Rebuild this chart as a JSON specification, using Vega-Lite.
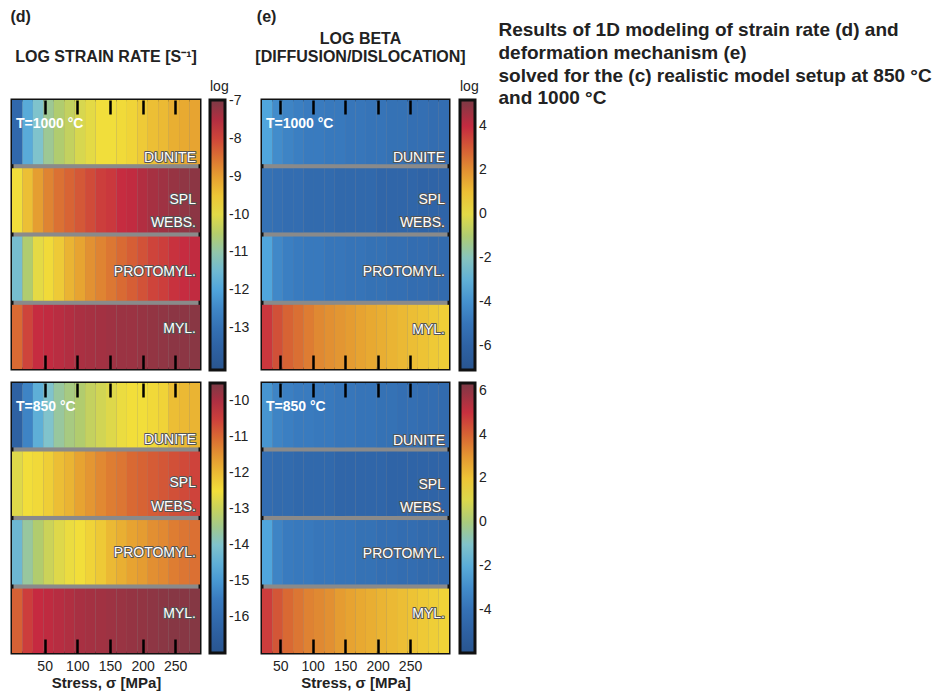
{
"$schema": "https://vega.github.io/schema/vega-lite/v6.json",
"background": "white",
"padding": {"left": 10, "top": 8, "right": 0, "bottom": 0},
"config": {
  "font": "Liberation Sans",
  "view": {"stroke": null},
  "axis": {"grid": false, "zindex": 1},
  "legend": {"padding": 0},
  "title": {"color": "#222"}
},
"datasets": {
"labels": [
  {"layer": "Dunite", "label": "DUNITE"},
  {"layer": "Spl webs.", "label": "SPL\nWEBS."},
  {"layer": "Protomyl.", "label": "PROTOMYL."},
  {"layer": "Myl.", "label": "MYL."}
],
"d1000": [
{"layer":"Dunite","lo":0,"hi":16,"v":-13.25},{"layer":"Dunite","lo":16,"hi":32,"v":-11.83},{"layer":"Dunite","lo":32,"hi":48,"v":-11.26},{"layer":"Dunite","lo":48,"hi":64,"v":-10.83},{"layer":"Dunite","lo":64,"hi":80,"v":-10.55},{"layer":"Dunite","lo":80,"hi":96,"v":-10.34},{"layer":"Dunite","lo":96,"hi":112,"v":-10.12},{"layer":"Dunite","lo":112,"hi":128,"v":-9.98},{"layer":"Dunite","lo":128,"hi":144,"v":-9.84},{"layer":"Dunite","lo":144,"hi":160,"v":-9.84},{"layer":"Dunite","lo":160,"hi":176,"v":-9.77},{"layer":"Dunite","lo":176,"hi":192,"v":-9.70},{"layer":"Dunite","lo":192,"hi":208,"v":-9.56},{"layer":"Dunite","lo":208,"hi":224,"v":-9.41},{"layer":"Dunite","lo":224,"hi":240,"v":-9.34},{"layer":"Dunite","lo":240,"hi":256,"v":-9.20},{"layer":"Dunite","lo":256,"hi":272,"v":-9.13},{"layer":"Dunite","lo":272,"hi":288,"v":-9.06},
{"layer":"Spl webs.","lo":0,"hi":16,"v":-9.84},{"layer":"Spl webs.","lo":16,"hi":32,"v":-9.41},{"layer":"Spl webs.","lo":32,"hi":48,"v":-8.99},{"layer":"Spl webs.","lo":48,"hi":64,"v":-8.70},{"layer":"Spl webs.","lo":64,"hi":80,"v":-8.49},{"layer":"Spl webs.","lo":80,"hi":96,"v":-8.35},{"layer":"Spl webs.","lo":96,"hi":112,"v":-8.21},{"layer":"Spl webs.","lo":112,"hi":128,"v":-8.07},{"layer":"Spl webs.","lo":128,"hi":144,"v":-7.92},{"layer":"Spl webs.","lo":144,"hi":160,"v":-7.85},{"layer":"Spl webs.","lo":160,"hi":176,"v":-7.71},{"layer":"Spl webs.","lo":176,"hi":192,"v":-7.64},{"layer":"Spl webs.","lo":192,"hi":208,"v":-7.50},{"layer":"Spl webs.","lo":208,"hi":224,"v":-7.39},{"layer":"Spl webs.","lo":224,"hi":240,"v":-7.32},{"layer":"Spl webs.","lo":240,"hi":256,"v":-7.25},{"layer":"Spl webs.","lo":256,"hi":272,"v":-7.18},{"layer":"Spl webs.","lo":272,"hi":288,"v":-7.14},
{"layer":"Protomyl.","lo":0,"hi":16,"v":-11.40},{"layer":"Protomyl.","lo":16,"hi":32,"v":-10.55},{"layer":"Protomyl.","lo":32,"hi":48,"v":-9.98},{"layer":"Protomyl.","lo":48,"hi":64,"v":-9.77},{"layer":"Protomyl.","lo":64,"hi":80,"v":-9.56},{"layer":"Protomyl.","lo":80,"hi":96,"v":-9.27},{"layer":"Protomyl.","lo":96,"hi":112,"v":-9.06},{"layer":"Protomyl.","lo":112,"hi":128,"v":-8.85},{"layer":"Protomyl.","lo":128,"hi":144,"v":-8.70},{"layer":"Protomyl.","lo":144,"hi":160,"v":-8.56},{"layer":"Protomyl.","lo":160,"hi":176,"v":-8.42},{"layer":"Protomyl.","lo":176,"hi":192,"v":-8.28},{"layer":"Protomyl.","lo":192,"hi":208,"v":-8.14},{"layer":"Protomyl.","lo":208,"hi":224,"v":-7.99},{"layer":"Protomyl.","lo":224,"hi":240,"v":-7.92},{"layer":"Protomyl.","lo":240,"hi":256,"v":-7.78},{"layer":"Protomyl.","lo":256,"hi":272,"v":-7.71},{"layer":"Protomyl.","lo":272,"hi":288,"v":-7.64},
{"layer":"Myl.","lo":0,"hi":16,"v":-8.42},{"layer":"Myl.","lo":16,"hi":32,"v":-7.99},{"layer":"Myl.","lo":32,"hi":48,"v":-7.71},{"layer":"Myl.","lo":48,"hi":64,"v":-7.64},{"layer":"Myl.","lo":64,"hi":80,"v":-7.57},{"layer":"Myl.","lo":80,"hi":96,"v":-7.50},{"layer":"Myl.","lo":96,"hi":112,"v":-7.43},{"layer":"Myl.","lo":112,"hi":128,"v":-7.39},{"layer":"Myl.","lo":128,"hi":144,"v":-7.36},{"layer":"Myl.","lo":144,"hi":160,"v":-7.32},{"layer":"Myl.","lo":160,"hi":176,"v":-7.28},{"layer":"Myl.","lo":176,"hi":192,"v":-7.28},{"layer":"Myl.","lo":192,"hi":208,"v":-7.25},{"layer":"Myl.","lo":208,"hi":224,"v":-7.21},{"layer":"Myl.","lo":224,"hi":240,"v":-7.18},{"layer":"Myl.","lo":240,"hi":256,"v":-7.14},{"layer":"Myl.","lo":256,"hi":272,"v":-7.14},{"layer":"Myl.","lo":272,"hi":288,"v":-7.11}
],
"d850": [
{"layer":"Dunite","lo":0,"hi":16,"v":-16.40},{"layer":"Dunite","lo":16,"hi":32,"v":-15.35},{"layer":"Dunite","lo":32,"hi":48,"v":-14.53},{"layer":"Dunite","lo":48,"hi":64,"v":-14.00},{"layer":"Dunite","lo":64,"hi":80,"v":-13.63},{"layer":"Dunite","lo":80,"hi":96,"v":-13.40},{"layer":"Dunite","lo":96,"hi":112,"v":-13.25},{"layer":"Dunite","lo":112,"hi":128,"v":-13.03},{"layer":"Dunite","lo":128,"hi":144,"v":-12.88},{"layer":"Dunite","lo":144,"hi":160,"v":-12.73},{"layer":"Dunite","lo":160,"hi":176,"v":-12.58},{"layer":"Dunite","lo":176,"hi":192,"v":-12.50},{"layer":"Dunite","lo":192,"hi":208,"v":-12.50},{"layer":"Dunite","lo":208,"hi":224,"v":-12.43},{"layer":"Dunite","lo":224,"hi":240,"v":-12.35},{"layer":"Dunite","lo":240,"hi":256,"v":-12.05},{"layer":"Dunite","lo":256,"hi":272,"v":-11.98},{"layer":"Dunite","lo":272,"hi":288,"v":-11.90},
{"layer":"Spl webs.","lo":0,"hi":16,"v":-12.73},{"layer":"Spl webs.","lo":16,"hi":32,"v":-12.50},{"layer":"Spl webs.","lo":32,"hi":48,"v":-12.43},{"layer":"Spl webs.","lo":48,"hi":64,"v":-12.28},{"layer":"Spl webs.","lo":64,"hi":80,"v":-12.05},{"layer":"Spl webs.","lo":80,"hi":96,"v":-11.90},{"layer":"Spl webs.","lo":96,"hi":112,"v":-11.68},{"layer":"Spl webs.","lo":112,"hi":128,"v":-11.53},{"layer":"Spl webs.","lo":128,"hi":144,"v":-11.38},{"layer":"Spl webs.","lo":144,"hi":160,"v":-11.23},{"layer":"Spl webs.","lo":160,"hi":176,"v":-11.15},{"layer":"Spl webs.","lo":176,"hi":192,"v":-11.00},{"layer":"Spl webs.","lo":192,"hi":208,"v":-10.93},{"layer":"Spl webs.","lo":208,"hi":224,"v":-10.85},{"layer":"Spl webs.","lo":224,"hi":240,"v":-10.78},{"layer":"Spl webs.","lo":240,"hi":256,"v":-10.70},{"layer":"Spl webs.","lo":256,"hi":272,"v":-10.63},{"layer":"Spl webs.","lo":272,"hi":288,"v":-10.55},
{"layer":"Protomyl.","lo":0,"hi":16,"v":-14.30},{"layer":"Protomyl.","lo":16,"hi":32,"v":-13.63},{"layer":"Protomyl.","lo":32,"hi":48,"v":-13.25},{"layer":"Protomyl.","lo":48,"hi":64,"v":-12.95},{"layer":"Protomyl.","lo":64,"hi":80,"v":-12.73},{"layer":"Protomyl.","lo":80,"hi":96,"v":-12.58},{"layer":"Protomyl.","lo":96,"hi":112,"v":-12.50},{"layer":"Protomyl.","lo":112,"hi":128,"v":-12.35},{"layer":"Protomyl.","lo":128,"hi":144,"v":-12.20},{"layer":"Protomyl.","lo":144,"hi":160,"v":-11.98},{"layer":"Protomyl.","lo":160,"hi":176,"v":-11.83},{"layer":"Protomyl.","lo":176,"hi":192,"v":-11.68},{"layer":"Protomyl.","lo":192,"hi":208,"v":-11.60},{"layer":"Protomyl.","lo":208,"hi":224,"v":-11.45},{"layer":"Protomyl.","lo":224,"hi":240,"v":-11.38},{"layer":"Protomyl.","lo":240,"hi":256,"v":-11.23},{"layer":"Protomyl.","lo":256,"hi":272,"v":-11.15},{"layer":"Protomyl.","lo":272,"hi":288,"v":-11.08},
{"layer":"Myl.","lo":0,"hi":16,"v":-10.90},{"layer":"Myl.","lo":16,"hi":32,"v":-10.48},{"layer":"Myl.","lo":32,"hi":48,"v":-10.25},{"layer":"Myl.","lo":48,"hi":64,"v":-10.18},{"layer":"Myl.","lo":64,"hi":80,"v":-10.10},{"layer":"Myl.","lo":80,"hi":96,"v":-10.03},{"layer":"Myl.","lo":96,"hi":112,"v":-9.95},{"layer":"Myl.","lo":112,"hi":128,"v":-9.91},{"layer":"Myl.","lo":128,"hi":144,"v":-9.88},{"layer":"Myl.","lo":144,"hi":160,"v":-9.84},{"layer":"Myl.","lo":160,"hi":176,"v":-9.80},{"layer":"Myl.","lo":176,"hi":192,"v":-9.76},{"layer":"Myl.","lo":192,"hi":208,"v":-9.73},{"layer":"Myl.","lo":208,"hi":224,"v":-9.69},{"layer":"Myl.","lo":224,"hi":240,"v":-9.65},{"layer":"Myl.","lo":240,"hi":256,"v":-9.62},{"layer":"Myl.","lo":256,"hi":272,"v":-9.62},{"layer":"Myl.","lo":272,"hi":288,"v":-9.60}
],
"e1000": [
{"layer":"Dunite","lo":22,"hi":38,"v":-3.41},{"layer":"Dunite","lo":38,"hi":54,"v":-4.15},{"layer":"Dunite","lo":54,"hi":70,"v":-4.39},{"layer":"Dunite","lo":70,"hi":86,"v":-4.52},{"layer":"Dunite","lo":86,"hi":102,"v":-4.64},{"layer":"Dunite","lo":102,"hi":118,"v":-4.64},{"layer":"Dunite","lo":118,"hi":134,"v":-4.76},{"layer":"Dunite","lo":134,"hi":150,"v":-4.76},{"layer":"Dunite","lo":150,"hi":166,"v":-4.89},{"layer":"Dunite","lo":166,"hi":182,"v":-4.89},{"layer":"Dunite","lo":182,"hi":198,"v":-5.01},{"layer":"Dunite","lo":198,"hi":214,"v":-5.01},{"layer":"Dunite","lo":214,"hi":230,"v":-5.13},{"layer":"Dunite","lo":230,"hi":246,"v":-5.13},{"layer":"Dunite","lo":246,"hi":262,"v":-5.26},{"layer":"Dunite","lo":262,"hi":278,"v":-5.26},{"layer":"Dunite","lo":278,"hi":294,"v":-5.38},{"layer":"Dunite","lo":294,"hi":310,"v":-5.38},
{"layer":"Spl webs.","lo":22,"hi":38,"v":-5.13},{"layer":"Spl webs.","lo":38,"hi":54,"v":-5.26},{"layer":"Spl webs.","lo":54,"hi":70,"v":-5.38},{"layer":"Spl webs.","lo":70,"hi":86,"v":-5.38},{"layer":"Spl webs.","lo":86,"hi":102,"v":-5.50},{"layer":"Spl webs.","lo":102,"hi":118,"v":-5.50},{"layer":"Spl webs.","lo":118,"hi":134,"v":-5.50},{"layer":"Spl webs.","lo":134,"hi":150,"v":-5.62},{"layer":"Spl webs.","lo":150,"hi":166,"v":-5.62},{"layer":"Spl webs.","lo":166,"hi":182,"v":-5.62},{"layer":"Spl webs.","lo":182,"hi":198,"v":-5.62},{"layer":"Spl webs.","lo":198,"hi":214,"v":-5.75},{"layer":"Spl webs.","lo":214,"hi":230,"v":-5.75},{"layer":"Spl webs.","lo":230,"hi":246,"v":-5.75},{"layer":"Spl webs.","lo":246,"hi":262,"v":-5.75},{"layer":"Spl webs.","lo":262,"hi":278,"v":-5.87},{"layer":"Spl webs.","lo":278,"hi":294,"v":-5.87},{"layer":"Spl webs.","lo":294,"hi":310,"v":-5.87},
{"layer":"Protomyl.","lo":22,"hi":38,"v":-3.41},{"layer":"Protomyl.","lo":38,"hi":54,"v":-4.27},{"layer":"Protomyl.","lo":54,"hi":70,"v":-4.52},{"layer":"Protomyl.","lo":70,"hi":86,"v":-4.64},{"layer":"Protomyl.","lo":86,"hi":102,"v":-4.76},{"layer":"Protomyl.","lo":102,"hi":118,"v":-4.76},{"layer":"Protomyl.","lo":118,"hi":134,"v":-4.89},{"layer":"Protomyl.","lo":134,"hi":150,"v":-4.89},{"layer":"Protomyl.","lo":150,"hi":166,"v":-5.01},{"layer":"Protomyl.","lo":166,"hi":182,"v":-5.01},{"layer":"Protomyl.","lo":182,"hi":198,"v":-5.13},{"layer":"Protomyl.","lo":198,"hi":214,"v":-5.13},{"layer":"Protomyl.","lo":214,"hi":230,"v":-5.26},{"layer":"Protomyl.","lo":230,"hi":246,"v":-5.26},{"layer":"Protomyl.","lo":246,"hi":262,"v":-5.38},{"layer":"Protomyl.","lo":262,"hi":278,"v":-5.38},{"layer":"Protomyl.","lo":278,"hi":294,"v":-5.50},{"layer":"Protomyl.","lo":294,"hi":310,"v":-5.50},
{"layer":"Myl.","lo":22,"hi":38,"v":3.72},{"layer":"Myl.","lo":38,"hi":54,"v":3.23},{"layer":"Myl.","lo":54,"hi":70,"v":2.86},{"layer":"Myl.","lo":70,"hi":86,"v":2.62},{"layer":"Myl.","lo":86,"hi":102,"v":2.37},{"layer":"Myl.","lo":102,"hi":118,"v":2.13},{"layer":"Myl.","lo":118,"hi":134,"v":2.00},{"layer":"Myl.","lo":134,"hi":150,"v":1.88},{"layer":"Myl.","lo":150,"hi":166,"v":1.76},{"layer":"Myl.","lo":166,"hi":182,"v":1.63},{"layer":"Myl.","lo":182,"hi":198,"v":1.51},{"layer":"Myl.","lo":198,"hi":214,"v":1.39},{"layer":"Myl.","lo":214,"hi":230,"v":1.26},{"layer":"Myl.","lo":230,"hi":246,"v":1.14},{"layer":"Myl.","lo":246,"hi":262,"v":1.02},{"layer":"Myl.","lo":262,"hi":278,"v":0.90},{"layer":"Myl.","lo":278,"hi":294,"v":0.77},{"layer":"Myl.","lo":294,"hi":310,"v":0.65}
],
"e850": [
{"layer":"Dunite","lo":22,"hi":38,"v":-2.75},{"layer":"Dunite","lo":38,"hi":54,"v":-3.24},{"layer":"Dunite","lo":54,"hi":70,"v":-3.37},{"layer":"Dunite","lo":70,"hi":86,"v":-3.49},{"layer":"Dunite","lo":86,"hi":102,"v":-3.49},{"layer":"Dunite","lo":102,"hi":118,"v":-3.61},{"layer":"Dunite","lo":118,"hi":134,"v":-3.61},{"layer":"Dunite","lo":134,"hi":150,"v":-3.74},{"layer":"Dunite","lo":150,"hi":166,"v":-3.74},{"layer":"Dunite","lo":166,"hi":182,"v":-3.86},{"layer":"Dunite","lo":182,"hi":198,"v":-3.86},{"layer":"Dunite","lo":198,"hi":214,"v":-3.98},{"layer":"Dunite","lo":214,"hi":230,"v":-3.98},{"layer":"Dunite","lo":230,"hi":246,"v":-4.11},{"layer":"Dunite","lo":246,"hi":262,"v":-4.11},{"layer":"Dunite","lo":262,"hi":278,"v":-4.23},{"layer":"Dunite","lo":278,"hi":294,"v":-4.23},{"layer":"Dunite","lo":294,"hi":310,"v":-4.35},
{"layer":"Spl webs.","lo":22,"hi":38,"v":-4.23},{"layer":"Spl webs.","lo":38,"hi":54,"v":-4.35},{"layer":"Spl webs.","lo":54,"hi":70,"v":-4.35},{"layer":"Spl webs.","lo":70,"hi":86,"v":-4.47},{"layer":"Spl webs.","lo":86,"hi":102,"v":-4.47},{"layer":"Spl webs.","lo":102,"hi":118,"v":-4.47},{"layer":"Spl webs.","lo":118,"hi":134,"v":-4.47},{"layer":"Spl webs.","lo":134,"hi":150,"v":-4.60},{"layer":"Spl webs.","lo":150,"hi":166,"v":-4.60},{"layer":"Spl webs.","lo":166,"hi":182,"v":-4.60},{"layer":"Spl webs.","lo":182,"hi":198,"v":-4.60},{"layer":"Spl webs.","lo":198,"hi":214,"v":-4.60},{"layer":"Spl webs.","lo":214,"hi":230,"v":-4.72},{"layer":"Spl webs.","lo":230,"hi":246,"v":-4.72},{"layer":"Spl webs.","lo":246,"hi":262,"v":-4.72},{"layer":"Spl webs.","lo":262,"hi":278,"v":-4.72},{"layer":"Spl webs.","lo":278,"hi":294,"v":-4.72},{"layer":"Spl webs.","lo":294,"hi":310,"v":-4.72},
{"layer":"Protomyl.","lo":22,"hi":38,"v":-2.26},{"layer":"Protomyl.","lo":38,"hi":54,"v":-3.24},{"layer":"Protomyl.","lo":54,"hi":70,"v":-3.49},{"layer":"Protomyl.","lo":70,"hi":86,"v":-3.61},{"layer":"Protomyl.","lo":86,"hi":102,"v":-3.61},{"layer":"Protomyl.","lo":102,"hi":118,"v":-3.74},{"layer":"Protomyl.","lo":118,"hi":134,"v":-3.74},{"layer":"Protomyl.","lo":134,"hi":150,"v":-3.86},{"layer":"Protomyl.","lo":150,"hi":166,"v":-3.86},{"layer":"Protomyl.","lo":166,"hi":182,"v":-3.98},{"layer":"Protomyl.","lo":182,"hi":198,"v":-3.98},{"layer":"Protomyl.","lo":198,"hi":214,"v":-4.11},{"layer":"Protomyl.","lo":214,"hi":230,"v":-4.11},{"layer":"Protomyl.","lo":230,"hi":246,"v":-4.23},{"layer":"Protomyl.","lo":246,"hi":262,"v":-4.23},{"layer":"Protomyl.","lo":262,"hi":278,"v":-4.35},{"layer":"Protomyl.","lo":278,"hi":294,"v":-4.35},{"layer":"Protomyl.","lo":294,"hi":310,"v":-4.47},
{"layer":"Myl.","lo":22,"hi":38,"v":4.75},{"layer":"Myl.","lo":38,"hi":54,"v":4.26},{"layer":"Myl.","lo":54,"hi":70,"v":3.89},{"layer":"Myl.","lo":70,"hi":86,"v":3.64},{"layer":"Myl.","lo":86,"hi":102,"v":3.40},{"layer":"Myl.","lo":102,"hi":118,"v":3.28},{"layer":"Myl.","lo":118,"hi":134,"v":3.15},{"layer":"Myl.","lo":134,"hi":150,"v":2.91},{"layer":"Myl.","lo":150,"hi":166,"v":2.78},{"layer":"Myl.","lo":166,"hi":182,"v":2.66},{"layer":"Myl.","lo":182,"hi":198,"v":2.54},{"layer":"Myl.","lo":198,"hi":214,"v":2.41},{"layer":"Myl.","lo":214,"hi":230,"v":2.29},{"layer":"Myl.","lo":230,"hi":246,"v":2.17},{"layer":"Myl.","lo":246,"hi":262,"v":2.05},{"layer":"Myl.","lo":262,"hi":278,"v":1.92},{"layer":"Myl.","lo":278,"hi":294,"v":1.80},{"layer":"Myl.","lo":294,"hi":310,"v":1.68}
]
},
"resolve": {"scale": {"color": "independent"}, "legend": {"color": "independent"}},
"spacing": 1,
"hconcat": [
{
  "title": {"text": "(d)", "anchor": "start", "fontSize": 16, "fontWeight": "bold", "offset": 5},
  "spacing": 6,
  "resolve": {"scale": {"color": "independent"}, "legend": {"color": "independent"}},
  "vconcat": [
  {
    "width": 188, "height": 269,
    "title": {"text": ["", "LOG STRAIN RATE [S⁻¹]"], "fontSize": 16, "fontWeight": "bold", "lineHeight": 18, "anchor": "middle", "frame": "group", "offset": 15},
    "view": {"stroke": "#111", "strokeWidth": 3, "fill": "#8a8a8a"},
    "resolve": {"axis": {"x": "independent"}},
    "layer": [
      {"data": {"name": "d1000"}, "mark": {"type": "rect"},
       "encoding": {
         "x": {"field": "lo", "type": "quantitative", "scale": {"domain": [0, 288], "nice": false, "zero": false},
               "axis": {"orient": "bottom", "values": [50,100,150,200,250], "tickSize": -14, "tickWidth": 2.5, "tickColor": "#000", "domain": false, "zindex": 1, "labels": false, "title": null}},
         "x2": {"field": "hi"},
         "y": {"field": "layer", "type": "nominal", "sort": null, "scale": {"domain": ["Dunite","Spl webs.","Protomyl.","Myl."], "paddingInner": 0.06, "paddingOuter": 0}, "axis": null},
         "color": {"field": "v", "type": "quantitative",
                   "scale": {"domain": [-14.1, -6.98], "range": ["#29558f","#2f64a7","#397bbf","#50a6dc","#80c3cc","#b1cc6e","#f2de3a","#e8a931","#d96933","#c62a40","#7b3a45"], "interpolate": "rgb"},
                   "legend": {"title": "log", "orient": "none", "legendX": 198, "legendY": -20, "direction": "vertical", "gradientLength": 270, "gradientThickness": 15, "gradientStrokeColor": "#111", "gradientStrokeWidth": 3, "values": [-7,-8,-9,-10,-11,-12,-13], "labelFontSize": 14, "labelOffset": 4, "labelColor": "#222", "labelExpr": "replace(datum.label, '−', '-')", "titleFontSize": 14, "titleFontWeight": "normal", "titleColor": "#222", "titlePadding": 6}}
       }},
      {"data": {"values": [{"label": "T=1000 °C"}]},
       "mark": {"type": "text", "align": "left", "baseline": "middle", "dx": 4, "dy": 24, "fontSize": 14, "fontWeight": "bold", "fill": "white"},
       "encoding": {
         "x": {"datum": 0, "type": "quantitative", "scale": {"domain": [0, 288], "nice": false, "zero": false},
               "axis": {"orient": "top", "values": [50,100,150,200,250], "tickSize": -14, "tickWidth": 2.5, "tickColor": "#000", "domain": false, "zindex": 1, "labels": false, "title": null}},
         "y": {"datum": "Dunite", "type": "nominal", "bandPosition": 0, "scale": {"domain": ["Dunite","Spl webs.","Protomyl.","Myl."], "paddingInner": 0.06, "paddingOuter": 0}, "axis": null},
         "text": {"field": "label"}
       }},
      {"data": {"name": "labels"}, "transform": [{"filter": "datum.layer === 'Dunite'"}], "mark": {"type": "text", "align": "right", "baseline": "alphabetic", "dx": -4, "dy": -2, "fontSize": 14, "fill": "#555", "stroke": "#555", "strokeWidth": 2, "strokeJoin": "round", "lineBreak": "\n", "lineHeight": 23}, "encoding": {"x": {"datum": 288, "type": "quantitative", "axis": null}, "y": {"field": "layer", "type": "nominal", "sort": null, "bandPosition": 1, "scale": {"domain": ["Dunite","Spl webs.","Protomyl.","Myl."], "paddingInner": 0.06, "paddingOuter": 0}, "axis": null}, "text": {"field": "label"}}},
      {"data": {"name": "labels"}, "transform": [{"filter": "datum.layer === 'Dunite'"}], "mark": {"type": "text", "align": "right", "baseline": "alphabetic", "dx": -4, "dy": -2, "fontSize": 14, "fill": "white", "lineBreak": "\n", "lineHeight": 23}, "encoding": {"x": {"datum": 288, "type": "quantitative", "axis": null}, "y": {"field": "layer", "type": "nominal", "sort": null, "bandPosition": 1, "scale": {"domain": ["Dunite","Spl webs.","Protomyl.","Myl."], "paddingInner": 0.06, "paddingOuter": 0}, "axis": null}, "text": {"field": "label"}}},
      {"data": {"name": "labels"}, "transform": [{"filter": "datum.layer === 'Spl webs.'"}], "mark": {"type": "text", "align": "right", "baseline": "alphabetic", "dx": -4, "dy": -28, "fontSize": 14, "fill": "#555", "stroke": "#555", "strokeWidth": 2, "strokeJoin": "round", "lineBreak": "\n", "lineHeight": 23}, "encoding": {"x": {"datum": 288, "type": "quantitative", "axis": null}, "y": {"field": "layer", "type": "nominal", "sort": null, "bandPosition": 1, "scale": {"domain": ["Dunite","Spl webs.","Protomyl.","Myl."], "paddingInner": 0.06, "paddingOuter": 0}, "axis": null}, "text": {"field": "label"}}},
      {"data": {"name": "labels"}, "transform": [{"filter": "datum.layer === 'Spl webs.'"}], "mark": {"type": "text", "align": "right", "baseline": "alphabetic", "dx": -4, "dy": -28, "fontSize": 14, "fill": "white", "lineBreak": "\n", "lineHeight": 23}, "encoding": {"x": {"datum": 288, "type": "quantitative", "axis": null}, "y": {"field": "layer", "type": "nominal", "sort": null, "bandPosition": 1, "scale": {"domain": ["Dunite","Spl webs.","Protomyl.","Myl."], "paddingInner": 0.06, "paddingOuter": 0}, "axis": null}, "text": {"field": "label"}}},
      {"data": {"name": "labels"}, "transform": [{"filter": "datum.layer === 'Protomyl.'"}], "mark": {"type": "text", "align": "right", "baseline": "alphabetic", "dx": -4, "dy": -25, "fontSize": 14, "fill": "#555", "stroke": "#555", "strokeWidth": 2, "strokeJoin": "round", "lineBreak": "\n", "lineHeight": 23}, "encoding": {"x": {"datum": 288, "type": "quantitative", "axis": null}, "y": {"field": "layer", "type": "nominal", "sort": null, "bandPosition": 1, "scale": {"domain": ["Dunite","Spl webs.","Protomyl.","Myl."], "paddingInner": 0.06, "paddingOuter": 0}, "axis": null}, "text": {"field": "label"}}},
      {"data": {"name": "labels"}, "transform": [{"filter": "datum.layer === 'Protomyl.'"}], "mark": {"type": "text", "align": "right", "baseline": "alphabetic", "dx": -4, "dy": -25, "fontSize": 14, "fill": "white", "lineBreak": "\n", "lineHeight": 23}, "encoding": {"x": {"datum": 288, "type": "quantitative", "axis": null}, "y": {"field": "layer", "type": "nominal", "sort": null, "bandPosition": 1, "scale": {"domain": ["Dunite","Spl webs.","Protomyl.","Myl."], "paddingInner": 0.06, "paddingOuter": 0}, "axis": null}, "text": {"field": "label"}}},
      {"data": {"name": "labels"}, "transform": [{"filter": "datum.layer === 'Myl.'"}], "mark": {"type": "text", "align": "right", "baseline": "alphabetic", "dx": -4, "dy": -36, "fontSize": 14, "fill": "#555", "stroke": "#555", "strokeWidth": 2, "strokeJoin": "round", "lineBreak": "\n", "lineHeight": 23}, "encoding": {"x": {"datum": 288, "type": "quantitative", "axis": null}, "y": {"field": "layer", "type": "nominal", "sort": null, "bandPosition": 1, "scale": {"domain": ["Dunite","Spl webs.","Protomyl.","Myl."], "paddingInner": 0.06, "paddingOuter": 0}, "axis": null}, "text": {"field": "label"}}},
      {"data": {"name": "labels"}, "transform": [{"filter": "datum.layer === 'Myl.'"}], "mark": {"type": "text", "align": "right", "baseline": "alphabetic", "dx": -4, "dy": -36, "fontSize": 14, "fill": "white", "lineBreak": "\n", "lineHeight": 23}, "encoding": {"x": {"datum": 288, "type": "quantitative", "axis": null}, "y": {"field": "layer", "type": "nominal", "sort": null, "bandPosition": 1, "scale": {"domain": ["Dunite","Spl webs.","Protomyl.","Myl."], "paddingInner": 0.06, "paddingOuter": 0}, "axis": null}, "text": {"field": "label"}}}
    ]
  },
  {
    "width": 188, "height": 270,
    "view": {"stroke": "#111", "strokeWidth": 3, "fill": "#8a8a8a"},
    "resolve": {"axis": {"x": "independent"}},
    "layer": [
      {"data": {"name": "d850"}, "mark": {"type": "rect"},
       "encoding": {
         "x": {"field": "lo", "type": "quantitative", "scale": {"domain": [0, 288], "nice": false, "zero": false},
               "axis": {"orient": "bottom", "values": [50,100,150,200,250], "tickSize": -14, "tickWidth": 2.5, "tickColor": "#000", "domain": false, "zindex": 1, "labelFontSize": 14, "labelColor": "#222", "labelPadding": 20, "labelFlush": false, "title": "Stress, σ [MPa]", "titleFontSize": 15, "titleFontWeight": "bold", "titleColor": "#222", "titlePadding": 2, "titleDx": 20}},
         "x2": {"field": "hi"},
         "y": {"field": "layer", "type": "nominal", "sort": null, "scale": {"domain": ["Dunite","Spl webs.","Protomyl.","Myl."], "paddingInner": 0.06, "paddingOuter": 0}, "axis": null},
         "color": {"field": "v", "type": "quantitative",
                   "scale": {"domain": [-17.0, -9.5], "range": ["#29558f","#2f64a7","#397bbf","#50a6dc","#80c3cc","#b1cc6e","#f2de3a","#e8a931","#d96933","#c62a40","#7b3a45"], "interpolate": "rgb"},
                   "legend": {"title": null, "orient": "none", "legendX": 198, "legendY": 0, "direction": "vertical", "gradientLength": 270, "gradientThickness": 15, "gradientStrokeColor": "#111", "gradientStrokeWidth": 3, "values": [-10,-11,-12,-13,-14,-15,-16], "labelFontSize": 14, "labelOffset": 4, "labelColor": "#222", "labelExpr": "replace(datum.label, '−', '-')"}}
       }},
      {"data": {"values": [{"label": "T=850 °C"}]},
       "mark": {"type": "text", "align": "left", "baseline": "middle", "dx": 4, "dy": 24, "fontSize": 14, "fontWeight": "bold", "fill": "white"},
       "encoding": {
         "x": {"datum": 0, "type": "quantitative", "scale": {"domain": [0, 288], "nice": false, "zero": false},
               "axis": {"orient": "top", "values": [50,100,150,200,250], "tickSize": -14, "tickWidth": 2.5, "tickColor": "#000", "domain": false, "zindex": 1, "labels": false, "title": null}},
         "y": {"datum": "Dunite", "type": "nominal", "bandPosition": 0, "scale": {"domain": ["Dunite","Spl webs.","Protomyl.","Myl."], "paddingInner": 0.06, "paddingOuter": 0}, "axis": null},
         "text": {"field": "label"}
       }},
      {"data": {"name": "labels"}, "transform": [{"filter": "datum.layer === 'Dunite'"}], "mark": {"type": "text", "align": "right", "baseline": "alphabetic", "dx": -4, "dy": -3, "fontSize": 14, "fill": "#555", "stroke": "#555", "strokeWidth": 2, "strokeJoin": "round", "lineBreak": "\n", "lineHeight": 24}, "encoding": {"x": {"datum": 288, "type": "quantitative", "axis": null}, "y": {"field": "layer", "type": "nominal", "sort": null, "bandPosition": 1, "scale": {"domain": ["Dunite","Spl webs.","Protomyl.","Myl."], "paddingInner": 0.06, "paddingOuter": 0}, "axis": null}, "text": {"field": "label"}}},
      {"data": {"name": "labels"}, "transform": [{"filter": "datum.layer === 'Dunite'"}], "mark": {"type": "text", "align": "right", "baseline": "alphabetic", "dx": -4, "dy": -3, "fontSize": 14, "fill": "white", "lineBreak": "\n", "lineHeight": 24}, "encoding": {"x": {"datum": 288, "type": "quantitative", "axis": null}, "y": {"field": "layer", "type": "nominal", "sort": null, "bandPosition": 1, "scale": {"domain": ["Dunite","Spl webs.","Protomyl.","Myl."], "paddingInner": 0.06, "paddingOuter": 0}, "axis": null}, "text": {"field": "label"}}},
      {"data": {"name": "labels"}, "transform": [{"filter": "datum.layer === 'Spl webs.'"}], "mark": {"type": "text", "align": "right", "baseline": "alphabetic", "dx": -4, "dy": -29, "fontSize": 14, "fill": "#555", "stroke": "#555", "strokeWidth": 2, "strokeJoin": "round", "lineBreak": "\n", "lineHeight": 24}, "encoding": {"x": {"datum": 288, "type": "quantitative", "axis": null}, "y": {"field": "layer", "type": "nominal", "sort": null, "bandPosition": 1, "scale": {"domain": ["Dunite","Spl webs.","Protomyl.","Myl."], "paddingInner": 0.06, "paddingOuter": 0}, "axis": null}, "text": {"field": "label"}}},
      {"data": {"name": "labels"}, "transform": [{"filter": "datum.layer === 'Spl webs.'"}], "mark": {"type": "text", "align": "right", "baseline": "alphabetic", "dx": -4, "dy": -29, "fontSize": 14, "fill": "white", "lineBreak": "\n", "lineHeight": 24}, "encoding": {"x": {"datum": 288, "type": "quantitative", "axis": null}, "y": {"field": "layer", "type": "nominal", "sort": null, "bandPosition": 1, "scale": {"domain": ["Dunite","Spl webs.","Protomyl.","Myl."], "paddingInner": 0.06, "paddingOuter": 0}, "axis": null}, "text": {"field": "label"}}},
      {"data": {"name": "labels"}, "transform": [{"filter": "datum.layer === 'Protomyl.'"}], "mark": {"type": "text", "align": "right", "baseline": "alphabetic", "dx": -4, "dy": -27, "fontSize": 14, "fill": "#555", "stroke": "#555", "strokeWidth": 2, "strokeJoin": "round", "lineBreak": "\n", "lineHeight": 24}, "encoding": {"x": {"datum": 288, "type": "quantitative", "axis": null}, "y": {"field": "layer", "type": "nominal", "sort": null, "bandPosition": 1, "scale": {"domain": ["Dunite","Spl webs.","Protomyl.","Myl."], "paddingInner": 0.06, "paddingOuter": 0}, "axis": null}, "text": {"field": "label"}}},
      {"data": {"name": "labels"}, "transform": [{"filter": "datum.layer === 'Protomyl.'"}], "mark": {"type": "text", "align": "right", "baseline": "alphabetic", "dx": -4, "dy": -27, "fontSize": 14, "fill": "white", "lineBreak": "\n", "lineHeight": 24}, "encoding": {"x": {"datum": 288, "type": "quantitative", "axis": null}, "y": {"field": "layer", "type": "nominal", "sort": null, "bandPosition": 1, "scale": {"domain": ["Dunite","Spl webs.","Protomyl.","Myl."], "paddingInner": 0.06, "paddingOuter": 0}, "axis": null}, "text": {"field": "label"}}},
      {"data": {"name": "labels"}, "transform": [{"filter": "datum.layer === 'Myl.'"}], "mark": {"type": "text", "align": "right", "baseline": "alphabetic", "dx": -4, "dy": -35, "fontSize": 14, "fill": "#555", "stroke": "#555", "strokeWidth": 2, "strokeJoin": "round", "lineBreak": "\n", "lineHeight": 24}, "encoding": {"x": {"datum": 288, "type": "quantitative", "axis": null}, "y": {"field": "layer", "type": "nominal", "sort": null, "bandPosition": 1, "scale": {"domain": ["Dunite","Spl webs.","Protomyl.","Myl."], "paddingInner": 0.06, "paddingOuter": 0}, "axis": null}, "text": {"field": "label"}}},
      {"data": {"name": "labels"}, "transform": [{"filter": "datum.layer === 'Myl.'"}], "mark": {"type": "text", "align": "right", "baseline": "alphabetic", "dx": -4, "dy": -35, "fontSize": 14, "fill": "white", "lineBreak": "\n", "lineHeight": 24}, "encoding": {"x": {"datum": 288, "type": "quantitative", "axis": null}, "y": {"field": "layer", "type": "nominal", "sort": null, "bandPosition": 1, "scale": {"domain": ["Dunite","Spl webs.","Protomyl.","Myl."], "paddingInner": 0.06, "paddingOuter": 0}, "axis": null}, "text": {"field": "label"}}}
    ]
  }
  ]
},
{
  "title": {"text": "(e)", "anchor": "start", "fontSize": 16, "fontWeight": "bold", "offset": 5, "dx": 3},
  "spacing": 6,
  "resolve": {"scale": {"color": "independent"}, "legend": {"color": "independent"}},
  "vconcat": [
  {
    "width": 187, "height": 269,
    "title": {"text": ["LOG BETA", "[DIFFUSION/DISLOCATION]"], "fontSize": 16, "fontWeight": "bold", "lineHeight": 18, "anchor": "middle", "frame": "group", "offset": 15, "dx": 5},
    "view": {"stroke": "#111", "strokeWidth": 3, "fill": "#8a8a8a"},
    "resolve": {"axis": {"x": "independent"}},
    "layer": [
      {"data": {"name": "e1000"}, "mark": {"type": "rect"},
       "encoding": {
         "x": {"field": "lo", "type": "quantitative", "scale": {"domain": [22, 310], "nice": false, "zero": false},
               "axis": {"orient": "bottom", "values": [50,100,150,200,250], "tickSize": -14, "tickWidth": 2.5, "tickColor": "#000", "domain": false, "zindex": 1, "labels": false, "title": null}},
         "x2": {"field": "hi"},
         "y": {"field": "layer", "type": "nominal", "sort": null, "scale": {"domain": ["Dunite","Spl webs.","Protomyl.","Myl."], "paddingInner": 0.06, "paddingOuter": 0}, "axis": null},
         "color": {"field": "v", "type": "quantitative",
                   "scale": {"domain": [-7.1, 5.2], "range": ["#29558f","#2f64a7","#397bbf","#50a6dc","#80c3cc","#b1cc6e","#f2de3a","#e8a931","#d96933","#c62a40","#7b3a45"], "interpolate": "rgb"},
                   "legend": {"title": "log", "orient": "none", "legendX": 198, "legendY": -20, "direction": "vertical", "gradientLength": 270, "gradientThickness": 15, "gradientStrokeColor": "#111", "gradientStrokeWidth": 3, "values": [4,2,0,-2,-4,-6], "labelFontSize": 14, "labelOffset": 4, "labelColor": "#222", "labelExpr": "replace(datum.label, '−', '-')", "titleFontSize": 14, "titleFontWeight": "normal", "titleColor": "#222", "titlePadding": 6}}
       }},
      {"data": {"values": [{"label": "T=1000 °C"}]},
       "mark": {"type": "text", "align": "left", "baseline": "middle", "dx": 4, "dy": 24, "fontSize": 14, "fontWeight": "bold", "fill": "white"},
       "encoding": {
         "x": {"datum": 22, "type": "quantitative", "scale": {"domain": [22, 310], "nice": false, "zero": false},
               "axis": {"orient": "top", "values": [50,100,150,200,250], "tickSize": -14, "tickWidth": 2.5, "tickColor": "#000", "domain": false, "zindex": 1, "labels": false, "title": null}},
         "y": {"datum": "Dunite", "type": "nominal", "bandPosition": 0, "scale": {"domain": ["Dunite","Spl webs.","Protomyl.","Myl."], "paddingInner": 0.06, "paddingOuter": 0}, "axis": null},
         "text": {"field": "label"}
       }},
      {"data": {"name": "labels"}, "transform": [{"filter": "datum.layer === 'Dunite'"}], "mark": {"type": "text", "align": "right", "baseline": "alphabetic", "dx": -4, "dy": -2, "fontSize": 14, "fill": "#555", "stroke": "#555", "strokeWidth": 2, "strokeJoin": "round", "lineBreak": "\n", "lineHeight": 23}, "encoding": {"x": {"datum": 310, "type": "quantitative", "axis": null}, "y": {"field": "layer", "type": "nominal", "sort": null, "bandPosition": 1, "scale": {"domain": ["Dunite","Spl webs.","Protomyl.","Myl."], "paddingInner": 0.06, "paddingOuter": 0}, "axis": null}, "text": {"field": "label"}}},
      {"data": {"name": "labels"}, "transform": [{"filter": "datum.layer === 'Dunite'"}], "mark": {"type": "text", "align": "right", "baseline": "alphabetic", "dx": -4, "dy": -2, "fontSize": 14, "fill": "white", "lineBreak": "\n", "lineHeight": 23}, "encoding": {"x": {"datum": 310, "type": "quantitative", "axis": null}, "y": {"field": "layer", "type": "nominal", "sort": null, "bandPosition": 1, "scale": {"domain": ["Dunite","Spl webs.","Protomyl.","Myl."], "paddingInner": 0.06, "paddingOuter": 0}, "axis": null}, "text": {"field": "label"}}},
      {"data": {"name": "labels"}, "transform": [{"filter": "datum.layer === 'Spl webs.'"}], "mark": {"type": "text", "align": "right", "baseline": "alphabetic", "dx": -4, "dy": -28, "fontSize": 14, "fill": "#555", "stroke": "#555", "strokeWidth": 2, "strokeJoin": "round", "lineBreak": "\n", "lineHeight": 23}, "encoding": {"x": {"datum": 310, "type": "quantitative", "axis": null}, "y": {"field": "layer", "type": "nominal", "sort": null, "bandPosition": 1, "scale": {"domain": ["Dunite","Spl webs.","Protomyl.","Myl."], "paddingInner": 0.06, "paddingOuter": 0}, "axis": null}, "text": {"field": "label"}}},
      {"data": {"name": "labels"}, "transform": [{"filter": "datum.layer === 'Spl webs.'"}], "mark": {"type": "text", "align": "right", "baseline": "alphabetic", "dx": -4, "dy": -28, "fontSize": 14, "fill": "white", "lineBreak": "\n", "lineHeight": 23}, "encoding": {"x": {"datum": 310, "type": "quantitative", "axis": null}, "y": {"field": "layer", "type": "nominal", "sort": null, "bandPosition": 1, "scale": {"domain": ["Dunite","Spl webs.","Protomyl.","Myl."], "paddingInner": 0.06, "paddingOuter": 0}, "axis": null}, "text": {"field": "label"}}},
      {"data": {"name": "labels"}, "transform": [{"filter": "datum.layer === 'Protomyl.'"}], "mark": {"type": "text", "align": "right", "baseline": "alphabetic", "dx": -4, "dy": -25, "fontSize": 14, "fill": "#555", "stroke": "#555", "strokeWidth": 2, "strokeJoin": "round", "lineBreak": "\n", "lineHeight": 23}, "encoding": {"x": {"datum": 310, "type": "quantitative", "axis": null}, "y": {"field": "layer", "type": "nominal", "sort": null, "bandPosition": 1, "scale": {"domain": ["Dunite","Spl webs.","Protomyl.","Myl."], "paddingInner": 0.06, "paddingOuter": 0}, "axis": null}, "text": {"field": "label"}}},
      {"data": {"name": "labels"}, "transform": [{"filter": "datum.layer === 'Protomyl.'"}], "mark": {"type": "text", "align": "right", "baseline": "alphabetic", "dx": -4, "dy": -25, "fontSize": 14, "fill": "white", "lineBreak": "\n", "lineHeight": 23}, "encoding": {"x": {"datum": 310, "type": "quantitative", "axis": null}, "y": {"field": "layer", "type": "nominal", "sort": null, "bandPosition": 1, "scale": {"domain": ["Dunite","Spl webs.","Protomyl.","Myl."], "paddingInner": 0.06, "paddingOuter": 0}, "axis": null}, "text": {"field": "label"}}},
      {"data": {"name": "labels"}, "transform": [{"filter": "datum.layer === 'Myl.'"}], "mark": {"type": "text", "align": "right", "baseline": "alphabetic", "dx": -4, "dy": -35, "fontSize": 14, "fill": "#555", "stroke": "#555", "strokeWidth": 2, "strokeJoin": "round", "lineBreak": "\n", "lineHeight": 23}, "encoding": {"x": {"datum": 310, "type": "quantitative", "axis": null}, "y": {"field": "layer", "type": "nominal", "sort": null, "bandPosition": 1, "scale": {"domain": ["Dunite","Spl webs.","Protomyl.","Myl."], "paddingInner": 0.06, "paddingOuter": 0}, "axis": null}, "text": {"field": "label"}}},
      {"data": {"name": "labels"}, "transform": [{"filter": "datum.layer === 'Myl.'"}], "mark": {"type": "text", "align": "right", "baseline": "alphabetic", "dx": -4, "dy": -35, "fontSize": 14, "fill": "white", "lineBreak": "\n", "lineHeight": 23}, "encoding": {"x": {"datum": 310, "type": "quantitative", "axis": null}, "y": {"field": "layer", "type": "nominal", "sort": null, "bandPosition": 1, "scale": {"domain": ["Dunite","Spl webs.","Protomyl.","Myl."], "paddingInner": 0.06, "paddingOuter": 0}, "axis": null}, "text": {"field": "label"}}}
    ]
  },
  {
    "width": 187, "height": 270,
    "view": {"stroke": "#111", "strokeWidth": 3, "fill": "#8a8a8a"},
    "resolve": {"axis": {"x": "independent"}},
    "layer": [
      {"data": {"name": "e850"}, "mark": {"type": "rect"},
       "encoding": {
         "x": {"field": "lo", "type": "quantitative", "scale": {"domain": [22, 310], "nice": false, "zero": false},
               "axis": {"orient": "bottom", "values": [50,100,150,200,250], "tickSize": -14, "tickWidth": 2.5, "tickColor": "#000", "domain": false, "zindex": 1, "labelFontSize": 14, "labelColor": "#222", "labelPadding": 20, "labelFlush": false, "title": "Stress, σ [MPa]", "titleFontSize": 15, "titleFontWeight": "bold", "titleColor": "#222", "titlePadding": 2}},
         "x2": {"field": "hi"},
         "y": {"field": "layer", "type": "nominal", "sort": null, "scale": {"domain": ["Dunite","Spl webs.","Protomyl.","Myl."], "paddingInner": 0.06, "paddingOuter": 0}, "axis": null},
         "color": {"field": "v", "type": "quantitative",
                   "scale": {"domain": [-5.95, 6.35], "range": ["#29558f","#2f64a7","#397bbf","#50a6dc","#80c3cc","#b1cc6e","#f2de3a","#e8a931","#d96933","#c62a40","#7b3a45"], "interpolate": "rgb"},
                   "legend": {"title": null, "orient": "none", "legendX": 198, "legendY": 0, "direction": "vertical", "gradientLength": 270, "gradientThickness": 15, "gradientStrokeColor": "#111", "gradientStrokeWidth": 3, "values": [6,4,2,0,-2,-4], "labelFontSize": 14, "labelOffset": 4, "labelColor": "#222", "labelExpr": "replace(datum.label, '−', '-')"}}
       }},
      {"data": {"values": [{"label": "T=850 °C"}]},
       "mark": {"type": "text", "align": "left", "baseline": "middle", "dx": 4, "dy": 24, "fontSize": 14, "fontWeight": "bold", "fill": "white"},
       "encoding": {
         "x": {"datum": 22, "type": "quantitative", "scale": {"domain": [22, 310], "nice": false, "zero": false},
               "axis": {"orient": "top", "values": [50,100,150,200,250], "tickSize": -14, "tickWidth": 2.5, "tickColor": "#000", "domain": false, "zindex": 1, "labels": false, "title": null}},
         "y": {"datum": "Dunite", "type": "nominal", "bandPosition": 0, "scale": {"domain": ["Dunite","Spl webs.","Protomyl.","Myl."], "paddingInner": 0.06, "paddingOuter": 0}, "axis": null},
         "text": {"field": "label"}
       }},
      {"data": {"name": "labels"}, "transform": [{"filter": "datum.layer === 'Dunite'"}], "mark": {"type": "text", "align": "right", "baseline": "alphabetic", "dx": -4, "dy": -2, "fontSize": 14, "fill": "#555", "stroke": "#555", "strokeWidth": 2, "strokeJoin": "round", "lineBreak": "\n", "lineHeight": 23}, "encoding": {"x": {"datum": 310, "type": "quantitative", "axis": null}, "y": {"field": "layer", "type": "nominal", "sort": null, "bandPosition": 1, "scale": {"domain": ["Dunite","Spl webs.","Protomyl.","Myl."], "paddingInner": 0.06, "paddingOuter": 0}, "axis": null}, "text": {"field": "label"}}},
      {"data": {"name": "labels"}, "transform": [{"filter": "datum.layer === 'Dunite'"}], "mark": {"type": "text", "align": "right", "baseline": "alphabetic", "dx": -4, "dy": -2, "fontSize": 14, "fill": "white", "lineBreak": "\n", "lineHeight": 23}, "encoding": {"x": {"datum": 310, "type": "quantitative", "axis": null}, "y": {"field": "layer", "type": "nominal", "sort": null, "bandPosition": 1, "scale": {"domain": ["Dunite","Spl webs.","Protomyl.","Myl."], "paddingInner": 0.06, "paddingOuter": 0}, "axis": null}, "text": {"field": "label"}}},
      {"data": {"name": "labels"}, "transform": [{"filter": "datum.layer === 'Spl webs.'"}], "mark": {"type": "text", "align": "right", "baseline": "alphabetic", "dx": -4, "dy": -27, "fontSize": 14, "fill": "#555", "stroke": "#555", "strokeWidth": 2, "strokeJoin": "round", "lineBreak": "\n", "lineHeight": 23}, "encoding": {"x": {"datum": 310, "type": "quantitative", "axis": null}, "y": {"field": "layer", "type": "nominal", "sort": null, "bandPosition": 1, "scale": {"domain": ["Dunite","Spl webs.","Protomyl.","Myl."], "paddingInner": 0.06, "paddingOuter": 0}, "axis": null}, "text": {"field": "label"}}},
      {"data": {"name": "labels"}, "transform": [{"filter": "datum.layer === 'Spl webs.'"}], "mark": {"type": "text", "align": "right", "baseline": "alphabetic", "dx": -4, "dy": -27, "fontSize": 14, "fill": "white", "lineBreak": "\n", "lineHeight": 23}, "encoding": {"x": {"datum": 310, "type": "quantitative", "axis": null}, "y": {"field": "layer", "type": "nominal", "sort": null, "bandPosition": 1, "scale": {"domain": ["Dunite","Spl webs.","Protomyl.","Myl."], "paddingInner": 0.06, "paddingOuter": 0}, "axis": null}, "text": {"field": "label"}}},
      {"data": {"name": "labels"}, "transform": [{"filter": "datum.layer === 'Protomyl.'"}], "mark": {"type": "text", "align": "right", "baseline": "alphabetic", "dx": -4, "dy": -26, "fontSize": 14, "fill": "#555", "stroke": "#555", "strokeWidth": 2, "strokeJoin": "round", "lineBreak": "\n", "lineHeight": 23}, "encoding": {"x": {"datum": 310, "type": "quantitative", "axis": null}, "y": {"field": "layer", "type": "nominal", "sort": null, "bandPosition": 1, "scale": {"domain": ["Dunite","Spl webs.","Protomyl.","Myl."], "paddingInner": 0.06, "paddingOuter": 0}, "axis": null}, "text": {"field": "label"}}},
      {"data": {"name": "labels"}, "transform": [{"filter": "datum.layer === 'Protomyl.'"}], "mark": {"type": "text", "align": "right", "baseline": "alphabetic", "dx": -4, "dy": -26, "fontSize": 14, "fill": "white", "lineBreak": "\n", "lineHeight": 23}, "encoding": {"x": {"datum": 310, "type": "quantitative", "axis": null}, "y": {"field": "layer", "type": "nominal", "sort": null, "bandPosition": 1, "scale": {"domain": ["Dunite","Spl webs.","Protomyl.","Myl."], "paddingInner": 0.06, "paddingOuter": 0}, "axis": null}, "text": {"field": "label"}}},
      {"data": {"name": "labels"}, "transform": [{"filter": "datum.layer === 'Myl.'"}], "mark": {"type": "text", "align": "right", "baseline": "alphabetic", "dx": -4, "dy": -35, "fontSize": 14, "fill": "#555", "stroke": "#555", "strokeWidth": 2, "strokeJoin": "round", "lineBreak": "\n", "lineHeight": 23}, "encoding": {"x": {"datum": 310, "type": "quantitative", "axis": null}, "y": {"field": "layer", "type": "nominal", "sort": null, "bandPosition": 1, "scale": {"domain": ["Dunite","Spl webs.","Protomyl.","Myl."], "paddingInner": 0.06, "paddingOuter": 0}, "axis": null}, "text": {"field": "label"}}},
      {"data": {"name": "labels"}, "transform": [{"filter": "datum.layer === 'Myl.'"}], "mark": {"type": "text", "align": "right", "baseline": "alphabetic", "dx": -4, "dy": -35, "fontSize": 14, "fill": "white", "lineBreak": "\n", "lineHeight": 23}, "encoding": {"x": {"datum": 310, "type": "quantitative", "axis": null}, "y": {"field": "layer", "type": "nominal", "sort": null, "bandPosition": 1, "scale": {"domain": ["Dunite","Spl webs.","Protomyl.","Myl."], "paddingInner": 0.06, "paddingOuter": 0}, "axis": null}, "text": {"field": "label"}}}
    ]
  }
  ]
},
{
  "width": 1, "height": 1,
  "data": {"values": []},
  "mark": {"type": "point", "opacity": 0},
  "title": {"text": ["Results of 1D modeling of strain rate (d) and", "deformation mechanism (e)", "solved for the (c) realistic model setup at 850 °C", "and 1000 °C"], "anchor": "start", "frame": "group", "fontSize": 19, "fontWeight": "bold", "lineHeight": 22.7, "offset": -8.5, "dx": 3.5, "color": "#222"}
}
]
}
